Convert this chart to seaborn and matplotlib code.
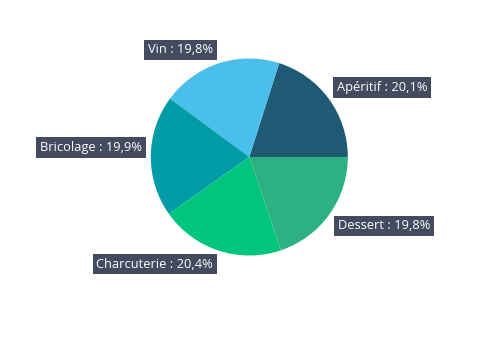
import numpy as np
import matplotlib
matplotlib.use('Agg')
import matplotlib.pyplot as plt
import seaborn as sns

# Données
categories = ['Apéritif', 'Vin', 'Bricolage', 'Charcuterie', 'Dessert']
parts = [20.1, 19.8, 19.9, 20.4, 19.8]
couleurs = ['#1f5a74', '#4bbfeb', '#029ca7', '#00c67d', '#2db083']

sns.set_theme(style='white')
plt.rcParams['font.family'] = ['Open Sans', 'DejaVu Sans']

W, H = 480, 351
fig = plt.figure(figsize=(W / 100, H / 100), dpi=100)
ax = fig.add_axes([0, 0, 1, 1])

cx, cy, r = 249.3, H - 157, 98.5
wedges, _ = ax.pie(parts, colors=couleurs, startangle=0, counterclock=True,
                   center=(cx, cy), radius=r, frame=True,
                   wedgeprops=dict(linewidth=0))
ax.set_xlim(0, W)
ax.set_ylim(0, H)
ax.set_aspect('equal')
ax.axis('off')

for w, cat, p in zip(wedges, categories, parts):
    ang = np.deg2rad((w.theta1 + w.theta2) / 2)
    ax_x = cx + (r + 5) * np.cos(ang)
    ax_y = cy + (r + 5) * np.sin(ang)
    ha = 'left' if np.cos(ang) > 0 else 'right'
    va = 'bottom' if np.sin(ang) > 0 else 'top'
    dx = 3 if ha == 'left' else -3
    dy = 1.5 if va == 'bottom' else -1.5
    txt = f"{cat} : {p:.1f}%".replace('.', ',')
    ax.annotate(txt, (ax_x, ax_y), xytext=(dx, dy), textcoords='offset points',
                ha=ha, va=va, fontsize=9.3, color='white',
                bbox=dict(boxstyle='square,pad=0.3', fc='#444b5f', ec='none'))

fig.savefig('out.png', dpi=100)
